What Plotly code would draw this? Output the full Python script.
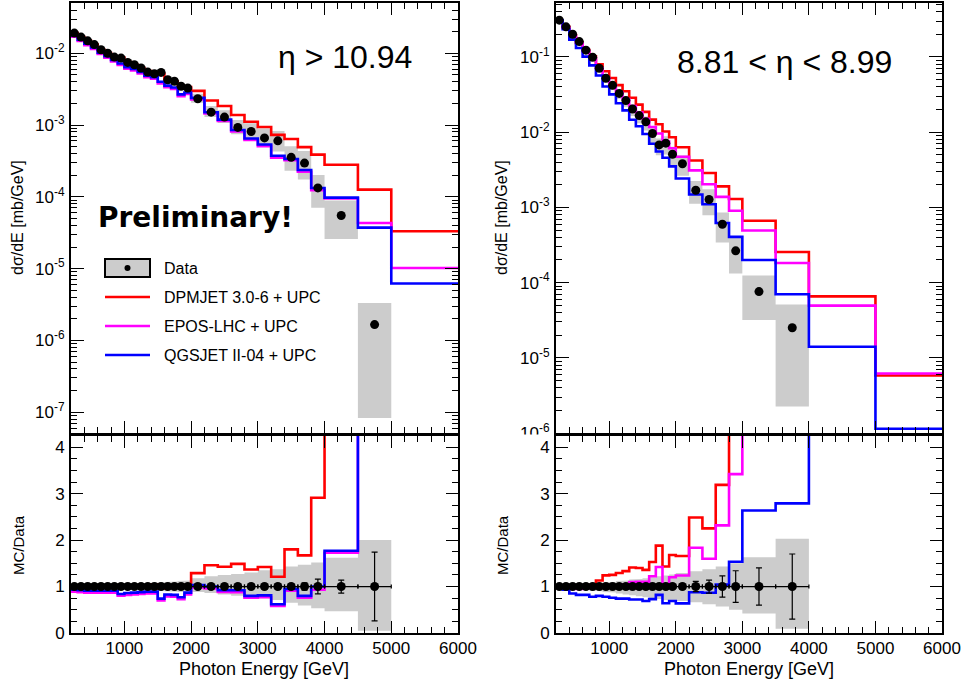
import numpy as np
import plotly.graph_objects as go

# ---------------- Left panel : eta > 10.94 ----------------
left_data_edges = [200, 300, 400, 500, 600, 700, 800, 900, 1000, 1100, 1200, 1300, 1400,
                   1500, 1600, 1700, 1800, 1900, 2000, 2200, 2400, 2600, 2800, 3000,
                   3200, 3400, 3600, 3800, 4000, 4500, 5000]
left_mc_edges = left_data_edges + [6000]
left_data = [0.0191, 0.0168, 0.0149, 0.0132, 0.0112, 0.0100, 0.00885, 0.00857, 0.00745,
             0.00692, 0.00622, 0.00547, 0.00519, 0.00541, 0.00427, 0.00407, 0.00347,
             0.00327, 0.00232, 0.00151, 0.00129, 0.000927, 0.000813, 0.000661,
             0.000603, 0.000355, 0.000295, 0.000133, 5.5e-5, 1.66e-6]
left_stat = [0.01] * 13 + [0.012, 0.013, 0.015, 0.017, 0.02,
                           0.025, 0.03, 0.03, 0.035, 0.04, 0.045, 0.05, 0.06, 0.08,
                           0.16, 0.14, 0.74]
left_syst_up = [0.02, 0.025, 0.03, 0.035, 0.04, 0.045, 0.05, 0.055, 0.06, 0.065, 0.07,
                0.075, 0.08, 0.09, 0.10, 0.11, 0.12, 0.13,
                0.18, 0.22, 0.25, 0.27, 0.30, 0.35, 0.37, 0.43, 0.47, 0.52, 0.62, 1.0]
left_syst_down = [0.02, 0.025, 0.03, 0.035, 0.04, 0.045, 0.05, 0.055, 0.06, 0.065, 0.07,
                  0.075, 0.08, 0.09, 0.10, 0.11, 0.12, 0.13,
                  0.12, 0.14, 0.17, 0.20, 0.22, 0.25, 0.29, 0.35, 0.41, 0.47, 0.53, 0.95]
left_dpmjet = [0.0191, 0.0168, 0.0149, 0.0132, 0.0112, 0.0101, 0.00894, 0.00874, 0.00752,
               0.00692, 0.00622, 0.00563, 0.00545, 0.00519, 0.00418, 0.00407, 0.00350,
               0.00337, 0.00299, 0.00220, 0.00184, 0.00138, 0.00111, 0.000939,
               0.000730, 0.000639, 0.000493, 0.000387, 0.000280, 0.000126, 3.31e-5]
left_epos = [0.0170, 0.01478, 0.01296, 0.01148, 0.00974, 0.0087, 0.0077, 0.00686, 0.00611,
             0.00574, 0.00522, 0.00465, 0.00441, 0.00379, 0.00337, 0.00317, 0.00253,
             0.00271, 0.00227, 0.00145, 0.00114, 0.000816, 0.000618, 0.000509,
             0.00035, 0.000323, 0.000224, 0.000124, 9.5e-5, 4.32e-5, 1.02e-5]
left_qgsjet = [0.01776, 0.01546, 0.01356, 0.01201, 0.01019, 0.0091, 0.00805, 0.0072,
               0.00641, 0.00602, 0.00547, 0.00487, 0.00462, 0.0040, 0.00354, 0.00334,
               0.00267, 0.00284, 0.00239, 0.00151, 0.00119, 0.000853, 0.00065,
               0.000535, 0.000374, 0.000337, 0.000236, 0.000133, 9.74e-5, 3.72e-5, 6.2e-6]

# ---------------- Right panel : 8.81 < eta < 8.99 ----------------
right_data_edges = [200, 300, 400, 500, 600, 700, 800, 900, 1000, 1100, 1200, 1300, 1400,
                    1500, 1600, 1700, 1800, 1900, 2000, 2200, 2400, 2600, 2800, 3000,
                    3500, 4000]
right_mc_edges = right_data_edges + [5000, 6000]
right_data = [0.308, 0.251, 0.200, 0.160, 0.123, 0.0989, 0.0708, 0.0519, 0.0419, 0.0327,
              0.0263, 0.0203, 0.0166, 0.0137, 0.00959, 0.00676, 0.00713, 0.00509,
              0.00380, 0.00169, 0.00127, 0.000596, 0.000264, 7.59e-5, 2.51e-5]
right_stat = [0.01] * 8 + [0.012, 0.014, 0.016, 0.018, 0.02, 0.022, 0.025, 0.03, 0.035,
                           0.04, 0.05, 0.11, 0.14, 0.23, 0.34, 0.40, 0.70]
right_syst_up = [0.02, 0.03, 0.04, 0.05, 0.06, 0.07, 0.08, 0.09, 0.10, 0.12, 0.13, 0.15,
                 0.16, 0.18, 0.20, 0.22, 0.24, 0.26,
                 0.29, 0.33, 0.37, 0.43, 0.50, 0.63, 1.03]
right_syst_down = [0.02, 0.03, 0.05, 0.06, 0.07, 0.09, 0.10, 0.12, 0.13, 0.15, 0.17, 0.19,
                   0.21, 0.23, 0.25, 0.27, 0.29, 0.31,
                   0.31, 0.34, 0.38, 0.43, 0.50, 0.58, 0.91]
right_dpmjet = [0.308, 0.251, 0.196, 0.155, 0.123, 0.102, 0.0800, 0.0644, 0.0524, 0.0422,
                0.0350, 0.0286, 0.0232, 0.0186, 0.01467, 0.01271, 0.01020, 0.00855,
                0.0063, 0.0042, 0.00286, 0.00190, 0.00129, 0.000664, 0.000255,
                6.56e-5, 5.81e-6]
right_epos = [0.308, 0.2435, 0.190, 0.152, 0.1193, 0.0969, 0.0708, 0.0519, 0.0419, 0.0334,
              0.0276, 0.0223, 0.01826, 0.01507, 0.0117, 0.0096, 0.00749, 0.00611,
              0.0047, 0.0031, 0.00203, 0.00138, 0.000903, 0.000493, 0.000182,
              4.93e-5, 6.17e-6]
right_qgsjet = [0.308, 0.2334, 0.170, 0.1312, 0.1009, 0.0771, 0.0566, 0.0405, 0.0318,
                0.0242, 0.01946, 0.01462, 0.01195, 0.00945, 0.0070, 0.00554, 0.00456,
                0.00351, 0.00242, 0.00148, 0.00110, 0.00062, 0.000405, 0.0002, 7.0e-5,
                1.40e-5, 1.14e-6]

labels = ["Data", "DPMJET 3.0-6 + UPC", "EPOS-LHC + UPC", "QGSJET II-04 + UPC"]
colors = ["#ff0000", "#ff00ff", "#0000ff"]
x_ticks = [1000, 2000, 3000, 4000, 5000, 6000]

W, H = 964, 684
FONT = "Liberation Sans, Arial, Helvetica, sans-serif"
OFF_SCALE = 1e3  # ratio drawn off-scale where the data has no entry


def px(x):
    return x / W


def py(y):
    return 1 - y / H


def step_xy(edges, vals):
    return list(edges), list(vals) + [vals[-1]]


def band_xy(edges, lo, hi):
    xs, ys = [], []
    for i in range(len(hi)):
        xs += [edges[i], edges[i + 1]]
        ys += [hi[i], hi[i]]
    for i in reversed(range(len(lo))):
        xs += [edges[i + 1], edges[i]]
        ys += [lo[i], lo[i]]
    return xs + [xs[0]], ys + [ys[0]]


fig = go.Figure()


def add_panel(data_edges, mc_edges, data, stat, sup, sdown, mcs, xa_top, ya_top, xa_bot, ya_bot):
    e = np.array(data_edges, dtype=float)
    d = np.array(data)
    centers = 0.5 * (e[:-1] + e[1:])
    half = 0.5 * (e[1:] - e[:-1])
    up = np.array(sup)
    dn = np.array(sdown)
    bx, by = band_xy(data_edges, d * (1 - dn), d * (1 + up))
    fig.add_trace(go.Scatter(x=bx, y=by, mode="lines", fill="toself", fillcolor="#cccccc",
                             line=dict(width=0), hoverinfo="skip", showlegend=False,
                             xaxis=xa_top, yaxis=ya_top))
    rx, ry = band_xy(data_edges, 1 - dn, 1 + up)
    fig.add_trace(go.Scatter(x=rx, y=ry, mode="lines", fill="toself", fillcolor="#cccccc",
                             line=dict(width=0), hoverinfo="skip", showlegend=False,
                             xaxis=xa_bot, yaxis=ya_bot))
    n = len(data)
    for mc, col in zip(mcs, colors):
        sx, sy = step_xy(mc_edges, mc)
        fig.add_trace(go.Scatter(x=sx, y=sy, mode="lines", line=dict(color=col, width=2.6, shape="hv"),
                                 showlegend=False, xaxis=xa_top, yaxis=ya_top))
        ratio = list(np.array(mc[:n]) / d) + [OFF_SCALE] * (len(mc) - n)
        sx, sy = step_xy(mc_edges, ratio)
        fig.add_trace(go.Scatter(x=sx, y=sy, mode="lines", line=dict(color=col, width=2.6, shape="hv"),
                                 showlegend=False, xaxis=xa_bot, yaxis=ya_bot))
    fig.add_trace(go.Scatter(x=centers, y=d, mode="markers",
                             marker=dict(color="black", size=9),
                             showlegend=False, xaxis=xa_top, yaxis=ya_top))
    fig.add_trace(go.Scatter(x=centers, y=np.ones(n), mode="markers",
                             marker=dict(color="black", size=9),
                             error_x=dict(type="data", array=half, color="black", thickness=1.2, width=2),
                             error_y=dict(type="data", array=np.array(stat), color="black", thickness=1.2, width=3),
                             showlegend=False, xaxis=xa_bot, yaxis=ya_bot))


add_panel(left_data_edges, left_mc_edges, left_data, left_stat, left_syst_up, left_syst_down,
          [left_dpmjet, left_epos, left_qgsjet], "x", "y", "x2", "y2")
add_panel(right_data_edges, right_mc_edges, right_data, right_stat, right_syst_up, right_syst_down,
          [right_dpmjet, right_epos, right_qgsjet], "x3", "y3", "x4", "y4")

common = dict(showline=True, linewidth=2, linecolor="black", mirror="allticks", automargin=False,
              ticks="inside", tickcolor="black", tickwidth=1, showgrid=False, zeroline=False,
              tickfont=dict(family=FONT, size=17, color="black"))

xdom_l = [px(71), px(458)]
xdom_r = [px(556), px(942)]
ydom_t = [py(433), py(3)]
ydom_b = [py(633), py(436)]


def xaxis(dom, anchor, labels_on):
    return dict(common, domain=dom, anchor=anchor, range=[200, 6000], tickvals=x_ticks,
                ticklen=12, showticklabels=labels_on, ticklabelstandoff=-1,
                minor=dict(dtick=200, tick0=0, ticks="inside", ticklen=6, tickcolor="black", showgrid=False))


log_major = [10.0 ** k for k in range(-8, 1)]
log_text = ["10<sup>%d</sup>" % k for k in range(-8, 1)]
log_minor = [m * 10.0 ** k for k in range(-8, 0) for m in range(2, 10)]


def ylog(dom, anchor, rng):
    return dict(common, domain=dom, anchor=anchor, type="log", range=rng,
                tickvals=log_major, ticktext=log_text, ticklen=13, ticklabelstandoff=1,
                minor=dict(tickvals=log_minor, ticks="inside", ticklen=6, tickcolor="black", showgrid=False))


def yratio(dom, anchor):
    return dict(common, domain=dom, anchor=anchor, range=[0, 4.24], tickvals=[0, 1, 2, 3, 4],
                ticklen=12, ticklabelstandoff=1,
                minor=dict(dtick=0.25, tick0=0, ticks="inside", ticklen=6, tickcolor="black", showgrid=False))


fig.update_layout(
    width=W, height=H, autosize=False, margin=dict(l=0, r=0, t=0, b=0, pad=0, autoexpand=False),
    paper_bgcolor="white", plot_bgcolor="white", showlegend=False,
    font=dict(family=FONT, color="black"),
    xaxis=xaxis(xdom_l, "y", False), yaxis=ylog(ydom_t, "x", [-7.29, -1.30]),
    xaxis2=xaxis(xdom_l, "y2", True), yaxis2=yratio(ydom_b, "x2"),
    xaxis3=xaxis(xdom_r, "y3", False), yaxis3=ylog(ydom_t, "x3", [-6.0, -0.283]),
    xaxis4=xaxis(xdom_r, "y4", True), yaxis4=yratio(ydom_b, "x4"),
)

ann = []


def text(x, y, s, size, angle=0, anchor="center", family=FONT, bold=False):
    ann.append(dict(x=px(x), y=py(y), xref="paper", yref="paper", text=("<b>%s</b>" % s) if bold else s,
                    showarrow=False, textangle=angle, xanchor=anchor, yanchor="middle",
                    font=dict(family=family, size=size, color="black")))


for xc in (18, 502):
    text(xc, 218, "dσ/dE [mb/GeV]", 16, angle=-90)
    text(xc, 545, "MC/Data", 15, angle=-90)
text(264, 669, "Photon Energy [GeV]", 18)
text(749, 669, "Photon Energy [GeV]", 18)
text(345, 57, "η > 10.94", 32)
text(784, 62, "8.81 < η < 8.99", 32)
text(195, 218, "Preliminary!", 28, family="DejaVu Sans, Verdana, sans-serif", bold=True)

leg_y = [268, 297, 326, 355]
for yy, lab in zip(leg_y, labels):
    text(162, yy, lab, 16, anchor="left")
shapes = [dict(type="rect", xref="paper", yref="paper", x0=px(105), x1=px(150), y0=py(277), y1=py(259),
               fillcolor="#cccccc", line=dict(color="black", width=2)),
          dict(type="circle", xref="paper", yref="paper", x0=px(124.5), x1=px(130.5), y0=py(271), y1=py(265),
               fillcolor="black", line=dict(color="black", width=0))]
for yy, col in zip(leg_y[1:], colors):
    shapes.append(dict(type="line", xref="paper", yref="paper", x0=px(105), x1=px(150), y0=py(yy), y1=py(yy),
                       line=dict(color=col, width=2.6)))
shapes.append(dict(type="rect", xref="paper", yref="paper", x0=px(484), x1=px(553), y0=py(440.5), y1=py(434.5),
                   fillcolor="white", line=dict(width=0), layer="above"))

fig.update_layout(annotations=ann, shapes=shapes)
fig.write_html("out.html")
